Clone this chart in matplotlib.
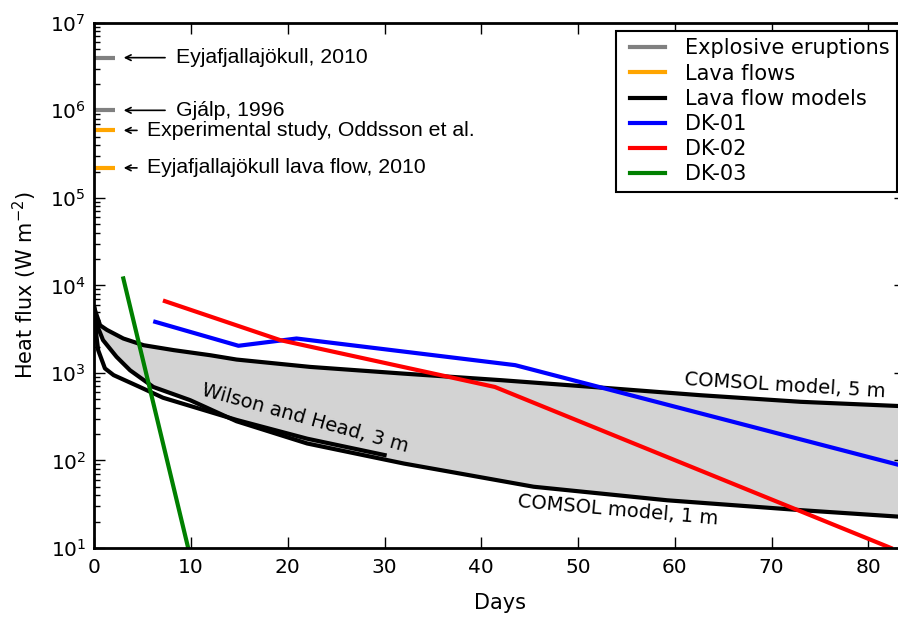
import matplotlib
matplotlib.use('Agg')
import matplotlib.pyplot as plt
from matplotlib.lines import Line2D
from matplotlib.legend_handler import HandlerLine2D
import numpy as np

# --- data (days, W m^-2) ---
comsol5_x = [0, 0.6, 1.3, 3.0, 5.1, 8.2, 12.0, 14.7, 22.3, 32.0, 42.0, 52.3, 62.6, 73.0, 83.8]
comsol5_y = [5500, 3500, 3100, 2470, 2070, 1820, 1590, 1420, 1170, 980, 826, 680, 556, 467, 415]

comsol1_x = [0, 0.2, 0.9, 2.3, 3.7, 6.1, 9.9, 14.7, 22.0, 32.0, 36.8, 45.4, 59.2, 73.0, 83.8]
comsol1_y = [5500, 3700, 2370, 1525, 1070, 690, 488, 280, 156, 92, 74, 50, 35, 27, 22.5]

wilson_x = [0, 0.1, 0.4, 1.1, 2.0, 4.7, 7.1, 14.7, 22.0, 30.0]
wilson_y = [5500, 3400, 1820, 1125, 942, 690, 520, 290, 177, 115]

dk01_x = [6.3, 14.9, 20.9, 43.5, 83.8]
dk01_y = [3830, 2040, 2470, 1225, 85]

dk02_x = [7.3, 19.2, 41.4, 82.3]
dk02_y = [6600, 2370, 690, 10]

dk03_x = [3.0, 9.7]
dk03_y = [12000, 10]

explosive_vals = [4.0e6, 1.0e6]
explosive_labels = ['Eyjafjallajökull, 2010', 'Gjálp, 1996']
lava_vals = [5.9e5, 2.2e5]
lava_labels = ['Experimental study, Oddsson et al.', 'Eyjafjallajökull lava flow, 2010']

plt.rcParams['font.family'] = 'DejaVu Sans'
plt.rcParams['mathtext.fontset'] = 'dejavusans'

fig = plt.figure(figsize=(8.98, 6.17), dpi=100)
# axes run slightly past the right edge of the picture, as in the original
ax = fig.add_axes([0.105, 0.112, 0.903, 0.851])

# shaded band between the two COMSOL models
xx = np.linspace(0, 83.8, 400)
lo = 10 ** np.interp(xx, comsol1_x, np.log10(comsol1_y))
hi = 10 ** np.interp(xx, comsol5_x, np.log10(comsol5_y))
ax.fill_between(xx, lo, hi, color='#d3d3d3', lw=0)

ax.plot(comsol5_x, comsol5_y, color='k', lw=3)
ax.plot(comsol1_x, comsol1_y, color='k', lw=3)
ax.plot(wilson_x, wilson_y, color='k', lw=3)
ax.plot(dk01_x, dk01_y, color='blue', lw=3)
ax.plot(dk02_x, dk02_y, color='red', lw=3)
ax.plot(dk03_x, dk03_y, color='green', lw=3)

# reference values on the left
afont = dict(family='Liberation Sans', size=15.3)
for v, lab in zip(explosive_vals, explosive_labels):
    ax.plot([0, 2.15], [v, v], color='gray', lw=3, solid_capstyle='butt')
    ax.annotate('', xy=(2.75, v), xytext=(7.6, v),
                arrowprops=dict(arrowstyle='->', lw=1.2, color='k'))
    ax.text(8.4, v, lab, fontdict=afont, va='center', ha='left')
for v, lab in zip(lava_vals, lava_labels):
    ax.plot([0, 2.15], [v, v], color='orange', lw=3, solid_capstyle='butt')
    ax.annotate('', xy=(2.75, v), xytext=(4.7, v),
                arrowprops=dict(arrowstyle='->', lw=1.2, color='k'))
    ax.text(5.4, v, lab, fontdict=afont, va='center', ha='left')

ax.text(21.8, 300, 'Wilson and Head, 3 m', fontsize=14, rotation=-15.5,
        ha='center', va='center', rotation_mode='anchor')
ax.text(71.4, 720, 'COMSOL model, 5 m', fontsize=14, rotation=-3.5,
        ha='center', va='center', rotation_mode='anchor')
ax.text(54.1, 27, 'COMSOL model, 1 m', fontsize=14, rotation=-5,
        ha='center', va='center', rotation_mode='anchor')

# legend
ax.plot([], [], color='gray', lw=3, label='Explosive eruptions')
ax.plot([], [], color='orange', lw=3, label='Lava flows')
ax.plot([], [], color='k', lw=3, label='Lava flow models')
ax.plot([], [], color='blue', lw=3, label='DK-01')
ax.plot([], [], color='red', lw=3, label='DK-02')
ax.plot([], [], color='green', lw=3, label='DK-03')
handles, labels = ax.get_legend_handles_labels()
leg = ax.legend(handles[-6:], labels[-6:], loc='upper right', fontsize=15,
                fancybox=False, framealpha=1, edgecolor='k',
                borderaxespad=0.4, labelspacing=0.25, handlelength=2.0,
                handletextpad=0.95, borderpad=0.35,
                handler_map={Line2D: HandlerLine2D(xpad=0.3)})
leg.get_frame().set_linewidth(1.5)

ax.set_yscale('log')
ax.set_xlim(0, 83.8)
ax.set_ylim(10, 1e7)
ax.set_xticks([0, 10, 20, 30, 40, 50, 60, 70, 80])
ax.tick_params(which='both', direction='in', top=True, right=True, labelsize=14.5)
ax.tick_params(which='major', length=8, width=1)
ax.tick_params(which='minor', length=4, width=1)
ax.tick_params(axis='x', pad=7)
ax.tick_params(axis='y', pad=6)
for s in ax.spines.values():
    s.set_linewidth(2)
ax.set_xlabel('Days', fontsize=15, labelpad=12)
ax.set_ylabel('Heat flux (W m$^{-2}$)', fontsize=15, labelpad=8)

fig.savefig('out.png', dpi=100)
